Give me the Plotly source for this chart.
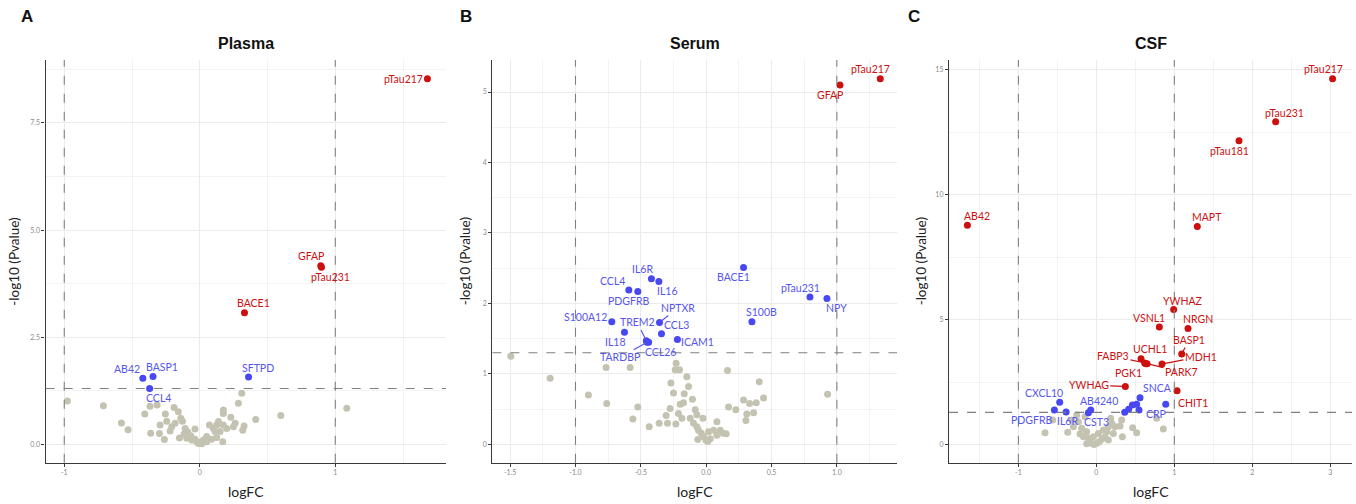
import plotly.graph_objects as go

# ---------------- data ----------------
# Panel A (Plasma)
A_ns_x = [-0.977, -0.711, -0.578, -0.529, -0.406, -0.367, -0.315, -0.362, -0.298, -0.261, -0.254, -0.244,
          -0.190, -0.158, -0.140, -0.128, -0.182, -0.207, -0.219, -0.150, -0.116, -0.089, -0.035, -0.096,
          -0.059, -0.022, 0.002, 0.027, 0.051, 0.088, 0.125, 0.170, 0.150, 0.174, 0.174, 0.138, 0.174,
          0.199, 0.229, 0.248, 0.261, 0.285, 0.310, 0.317, 0.327, 0.413, 0.598, 1.085, 0.113, 0.071,
          0.101, -0.293, -0.108, 0.051, -0.035, -0.010, 0.015, -0.067, 0.125]
A_ns_y = [1.01, 0.90, 0.50, 0.34, 0.71, 0.89, 0.92, 0.26, 0.25, 0.11, 0.71, 0.54,
          0.86, 0.76, 0.61, 0.54, 0.49, 0.41, 0.31, 0.15, 0.24, 0.29, 0.36, 0.14,
          0.10, 0.06, 0.04, 0.10, 0.06, 0.12, 0.16, 0.06, 0.30, 0.72, 0.80, 0.53, 0.45,
          0.37, 0.63, 0.41, 0.49, 0.96, 1.19, 0.33, 0.43, 0.58, 0.67, 0.84, 0.30, 0.45,
          0.37, 0.45, 0.37, 0.18, 0.12, 0.02, 0.01, 0.20, 0.45]
A_red_names = ["pTau217", "GFAP", "pTau231", "BACE1"]
A_red_x = [1.68, 0.893, 0.898, 0.33]
A_red_y = [8.53, 4.17, 4.13, 3.07]
A_blue_names = ["AB42", "BASP1", "CCL4", "SFTPD"]
A_blue_x = [-0.42, -0.345, -0.37, 0.36]
A_blue_y = [1.54, 1.58, 1.30, 1.57]

# Panel B (Serum)
B_ns_x = [-1.495, -1.194, -0.901, -0.766, -0.761, -0.582, -0.561, -0.523, -0.436, -0.360, -0.296, -0.306,
          -0.276, -0.270, -0.250, -0.232, -0.230, -0.237, -0.204, -0.212, -0.199, -0.186, -0.174, -0.148,
          -0.135, -0.168, -0.105, -0.122, -0.097, -0.084, -0.071, -0.059, -0.038, -0.020, -0.002, 0.013,
          0.031, 0.018, 0.056, 0.082, 0.107, 0.128, 0.153, 0.163, 0.171, 0.227, 0.286, 0.311, 0.304,
          0.332, 0.363, 0.383, 0.406, 0.439, 0.929, -0.025, -0.064, -0.071, 0.082]
B_ns_y = [1.25, 0.94, 0.70, 1.09, 0.58, 1.09, 0.36, 0.53, 0.25, 0.30, 0.30, 0.41,
          0.51, 0.87, 0.73, 0.29, 1.15, 1.06, 1.06, 0.44, 0.57, 0.37, 0.59, 0.96,
          0.82, 0.72, 0.64, 0.37, 0.30, 0.49, 0.42, 0.20, 0.16, 0.11, 0.06, 0.04,
          0.08, 0.18, 0.20, 0.32, 0.20, 0.16, 0.15, 1.05, 0.53, 0.49, 0.63, 0.43, 0.34,
          0.58, 0.45, 0.59, 0.89, 0.66, 0.71, 0.37, 0.07, 0.25, 0.13]
B_red_names = ["pTau217", "GFAP"]
B_red_x = [1.332, 1.024]
B_red_y = [5.19, 5.10]
B_blue_names = ["BACE1", "pTau231", "NPY", "S100B", "IL6R", "IL16", "CCL4", "PDGFRB", "S100A12",
                "NPTXR", "IL18", "CCL3", "ICAM1", "TREM2", "TARDBP", "CCL26"]
B_blue_x = [0.286, 0.794, 0.924, 0.350, -0.419, -0.362, -0.592, -0.523, -0.722,
            -0.357, -0.625, -0.342, -0.220, -0.458, -0.452, -0.440]
B_blue_y = [2.51, 2.09, 2.07, 1.74, 2.35, 2.31, 2.19, 2.17, 1.74,
            1.73, 1.59, 1.57, 1.49, 1.47, 1.45, 1.45]

# Panel C (CSF)
C_ns_x = [-0.658, -0.560, -0.367, -0.316, -0.295, -0.252, -0.231, -0.209, -0.188, -0.166, -0.124, -0.102,
          -0.081, -0.060, -0.030, 0.005, 0.039, 0.069, 0.111, 0.133, 0.154, 0.184, 0.197, 0.240, 0.304,
          0.325, 0.334, 0.466, 0.517, 0.774, 0.859, -0.038, 0.026, -0.145, 0.090, 0.218, 0.154, -0.124]
C_ns_y = [0.49, 1.00, 0.51, 1.00, 0.73, 1.20, 0.93, 0.44, 0.67, 0.33, 0.53, 0.27,
          0.13, 0.07, 0.02, 0.07, 0.13, 0.23, 0.33, 0.53, 0.73, 1.07, 0.87, 0.73, 0.76,
          1.00, 0.33, 0.69, 0.49, 1.07, 0.64, 0.33, 0.46, 1.13, 0.60, 0.46, 0.20, 0.05]
C_red_names = ["pTau217", "pTau231", "pTau181", "AB42", "MAPT", "YWHAZ", "VSNL1", "NRGN", "BASP1",
               "MDH1", "UCHL1", "FABP3", "PGK1", "PARK7", "YWHAG", "CHIT1"]
C_red_x = [3.03, 2.30, 1.83, -1.654, 1.295, 0.992, 0.808, 1.176, 1.095,
           0.842, 0.573, 0.620, 0.635, 0.650, 0.372, 1.035]
C_red_y = [14.64, 12.92, 12.16, 8.78, 8.73, 5.42, 4.72, 4.66, 3.64,
           3.24, 3.45, 3.28, 3.25, 3.25, 2.34, 2.17]
C_blue_names = ["SNCA", "CRP", "CXCL10", "AB4240", "CST3", "PDGFRB", "IL6R", "", "", "", "", ""]
C_blue_x = [0.56, 0.89, -0.47, -0.072, -0.102, -0.538, -0.388, 0.547, 0.517, 0.462, 0.415, 0.364]
C_blue_y = [1.89, 1.63, 1.71, 1.40, 1.29, 1.40, 1.32, 1.40, 1.63, 1.60, 1.43, 1.31]

# tick labels
A_xticks = [-1, 0, 1]; A_xtext = ["-1", "0", "1"]
A_yticks = [0, 2.5, 5, 7.5]; A_ytext = ["0.0", "2.5", "5.0", "7.5"]
B_xticks = [-1.5, -1.0, -0.5, 0.0, 0.5, 1.0]; B_xtext = ["-1.5", "-1.0", "-0.5", "0.0", "0.5", "1.0"]
B_yticks = [0, 1, 2, 3, 4, 5]; B_ytext = ["0", "1", "2", "3", "4", "5"]
C_xticks = [-1, 0, 1, 2, 3]; C_xtext = ["-1", "0", "1", "2", "3"]
C_yticks = [0, 5, 10, 15]; C_ytext = ["0", "5", "10", "15"]

FC_CUT = 1.0
P_CUT = 1.30103  # -log10(0.05)

# ---------------- style ----------------
RED = "#CC1010"
BLUE = "#4848F2"
BLUE_TXT = "#5656EE"
GRAY = "#C4C3B2"
LBL_FONT = "Lato"

# label offsets in pixels: (dx, dy_down, connector)
LABEL_POS = {
    "A": {"pTau217": (-24, 0, False), "GFAP": (-10, -10, False), "pTau231": (9, 10, False),
          "BACE1": (9, -9.4, False), "AB42": (-16, -9.3, False), "BASP1": (9, -9.4, False),
          "CCL4": (9, 9.3, False), "SFTPD": (9.4, -9.3, False)},
    "B": {"pTau217": (-10, -9.4, False), "GFAP": (-9.7, 9.6, False), "BACE1": (-10, 9.4, False),
          "pTau231": (-9.7, -9, False), "NPY": (9.3, 9, False), "S100B": (9.3, -9.4, False),
          "IL6R": (-9.3, -9.7, False), "IL16": (9, 9.3, False), "CCL4": (-16.4, -9, False),
          "PDGFRB": (-9.4, 9.3, False), "S100A12": (-26, -4.3, False), "NPTXR": (18.4, -14.4, True),
          "IL18": (-9.3, 9.7, False), "CCL3": (15.4, -9, False), "ICAM1": (20.4, 2.4, False),
          "TREM2": (-9, -18.4, True), "TARDBP": (-26.8, 15, True), "CCL26": (12, 9.7, False)},
    "C": {"pTau217": (-9.4, -9.4, False), "pTau231": (9.3, -9, False), "pTau181": (-9.3, 10.3, False),
          "AB42": (9.4, -9.3, False), "MAPT": (9.4, -9.4, False), "YWHAZ": (9, -8.6, False),
          "VSNL1": (-10, -9.3, False), "NRGN": (9.7, -9.6, False), "BASP1": (7.3, -14, True),
          "MDH1": (39, -7.3, True), "UCHL1": (9, -9.7, False), "FABP3": (-31.7, -6.6, True),
          "PGK1": (-17.3, 9.2, False), "PARK7": (34.3, 8.3, True), "YWHAG": (-36.6, -1.3, True),
          "CHIT1": (15.7, 12.6, False), "SNCA": (17.7, -9.4, False), "CRP": (-9.7, 9.7, False),
          "CXCL10": (-15.4, -9, False), "AB4240": (8.6, -9, False), "CST3": (8.4, 9, False),
          "PDGFRB": (-22.6, 10, False), "IL6R": (1.7, 9, False)},
}

W, H = 1356, 504
Y_DOM = [0.0819, 0.881]
panels = [
    dict(key="A", title="Plasma", dom=[0.0337, 0.3289], xr=[-1.137, 1.817], yr=[-0.43, 8.97],
         xt=(A_xticks, A_xtext), yt=(A_yticks, A_ytext), xminor=0.5, yminor=1.25,
         ns=(A_ns_x, A_ns_y), red=(A_red_names, A_red_x, A_red_y), blue=(A_blue_names, A_blue_x, A_blue_y),
         letter_x=27, ytitle_x=14.3),
    dict(key="B", title="Serum", dom=[0.3631, 0.6615], xr=[-1.636, 1.46], yr=[-0.26, 5.455],
         xt=(B_xticks, B_xtext), yt=(B_yticks, B_ytext), xminor=0.25, yminor=0.5,
         ns=(B_ns_x, B_ns_y), red=(B_red_names, B_red_x, B_red_y), blue=(B_blue_names, B_blue_x, B_blue_y),
         letter_x=466, ytitle_x=465),
    dict(key="C", title="CSF", dom=[0.6999, 0.9971], xr=[-1.889, 3.28], yr=[-0.71, 15.39],
         xt=(C_xticks, C_xtext), yt=(C_yticks, C_ytext), xminor=0.5, yminor=2.5,
         ns=(C_ns_x, C_ns_y), red=(C_red_names, C_red_x, C_red_y), blue=(C_blue_names, C_blue_x, C_blue_y),
         letter_x=914, ytitle_x=921),
]

fig = go.Figure()
annotations = []
shapes = []
layout_axes = {}

for i, p in enumerate(panels):
    n = "" if i == 0 else str(i + 1)
    xa, ya = "x" + n, "y" + n
    mk = dict(size=7, line=dict(width=0))
    fig.add_trace(go.Scatter(x=p["ns"][0], y=p["ns"][1], mode="markers", xaxis=xa, yaxis=ya,
                             marker=dict(color=GRAY, **mk), showlegend=False, hoverinfo="skip"))
    fig.add_trace(go.Scatter(x=p["blue"][1], y=p["blue"][2], mode="markers", xaxis=xa, yaxis=ya,
                             marker=dict(color=BLUE, **mk), showlegend=False, text=p["blue"][0]))
    fig.add_trace(go.Scatter(x=p["red"][1], y=p["red"][2], mode="markers", xaxis=xa, yaxis=ya,
                             marker=dict(color=RED, **mk), showlegend=False, text=p["red"][0]))

    pos = LABEL_POS[p["key"]]
    for names, xs, ys, col in [(p["blue"][0], p["blue"][1], p["blue"][2], BLUE_TXT),
                               (p["red"][0], p["red"][1], p["red"][2], RED)]:
        for nm, xv, yv in zip(names, xs, ys):
            if not nm or nm not in pos:
                continue
            dx, dy, conn = pos[nm]
            base = dict(x=xv, y=yv, xref=xa, yref=ya, text=nm,
                        font=dict(family=LBL_FONT, size=10.5, color=col))
            if conn:
                base.update(showarrow=True, ax=dx, ay=dy, arrowhead=0, arrowwidth=1.2,
                            arrowcolor=col, standoff=2, startstandoff=0)
            else:
                base.update(showarrow=False, xshift=dx, yshift=-dy)
            annotations.append(base)

    # threshold lines
    for xv in (-FC_CUT, FC_CUT):
        shapes.append(dict(type="line", xref=xa, yref=ya + " domain", x0=xv, x1=xv, y0=0, y1=1,
                           line=dict(color="#808080", width=1.1, dash="dash")))
    shapes.append(dict(type="line", xref=xa + " domain", yref=ya, x0=0, x1=1, y0=P_CUT, y1=P_CUT,
                       line=dict(color="#808080", width=1.1, dash="dash")))

    common = dict(showline=True, linecolor="#3a3a3a", linewidth=1.4, ticks="outside", ticklen=3,
                  tickcolor="#3a3a3a", tickwidth=1, tickfont=dict(family="Lato", size=7, color="#8a8a8a"),
                  showgrid=True, gridcolor="#EBEBEB", gridwidth=1, zeroline=False, mirror=False,
                  automargin=False)
    layout_axes["xaxis" + n] = dict(domain=p["dom"], range=p["xr"], anchor=ya, tickmode="array",
                                    tickvals=p["xt"][0], ticktext=p["xt"][1],
                                    minor=dict(dtick=p["xminor"], tick0=0, showgrid=True,
                                               gridcolor="#F3F3F3", ticklen=0),
                                    **common)
    layout_axes["yaxis" + n] = dict(domain=Y_DOM, range=p["yr"], anchor=xa, tickmode="array",
                                    tickvals=p["yt"][0], ticktext=p["yt"][1],
                                    minor=dict(dtick=p["yminor"], tick0=0, showgrid=True,
                                               gridcolor="#F3F3F3", ticklen=0),
                                    **common)

    cx = (p["dom"][0] + p["dom"][1]) / 2
    annotations.append(dict(x=cx, y=1 - 43.5 / H, xref="paper", yref="paper", text="<b>" + p["title"] + "</b>",
                            showarrow=False, font=dict(family="Liberation Sans", size=16, color="#111"),
                            xanchor="center", yanchor="middle"))
    annotations.append(dict(x=p["letter_x"] / W, y=1 - 17 / H, xref="paper", yref="paper",
                            text="<b>" + p["key"] + "</b>", showarrow=False,
                            font=dict(family="Liberation Sans", size=17, color="#111"),
                            xanchor="center", yanchor="middle"))
    annotations.append(dict(x=cx, y=1 - 491.5 / H, xref="paper", yref="paper", text="logFC",
                            showarrow=False, font=dict(family="Lato", size=14, color="#222"),
                            xanchor="center", yanchor="middle"))
    annotations.append(dict(x=p["ytitle_x"] / W, y=(Y_DOM[0] + Y_DOM[1]) / 2, xref="paper", yref="paper",
                            text="-log10 (Pvalue)", textangle=-90, showarrow=False,
                            font=dict(family="Lato", size=13.5, color="#222"),
                            xanchor="center", yanchor="middle"))

fig.update_layout(width=W, height=H, margin=dict(l=0, r=0, t=0, b=0, autoexpand=False),
                  paper_bgcolor="white", plot_bgcolor="white",
                  annotations=annotations, shapes=shapes, **layout_axes)

fig.write_html("out.html", config={"displayModeBar": False},
               post_script="document.body.style.margin='0';document.body.style.overflow='hidden';")
